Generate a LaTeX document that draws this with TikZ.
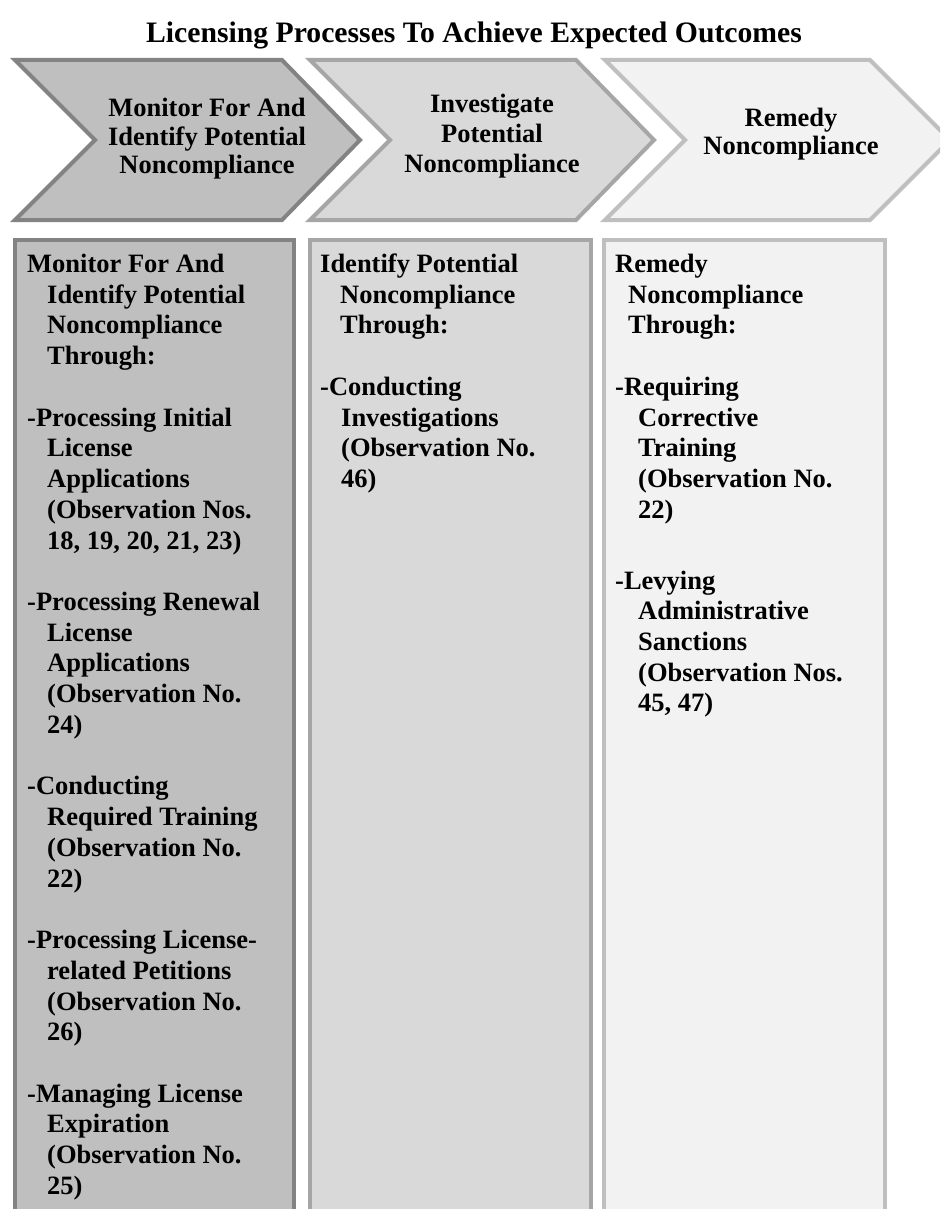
\documentclass[tikz,border=0pt]{standalone}
\usepackage{fontspec}
\setmainfont{Liberation Serif}
\newcommand\cellfont{\fontsize{26.5}{30}\selectfont\bfseries}
\newcommand\headfont{\fontsize{29.7}{34}\selectfont\bfseries}
\definecolor{fillA}{HTML}{BFBFBF}
\definecolor{lineA}{HTML}{838383}
\definecolor{fillB}{HTML}{D9D9D9}
\definecolor{lineB}{HTML}{A6A6A6}
\definecolor{fillC}{HTML}{F2F2F2}
\definecolor{lineC}{HTML}{BFBFBF}
\begin{document}
\begin{tikzpicture}[x=1pt,y=-1pt,
  txt/.style={inner sep=0pt, anchor=base west, font=\cellfont, text=black},
  ctxt/.style={inner sep=0pt, anchor=base, font=\cellfont, text=black},
  panel/.style={line width=4pt, line join=miter}]
\useasboundingbox (0,0) rectangle (940,1209);
\fill[white] (0,0) rectangle (940,1209);
\begin{scope}
\clip (0,0) rectangle (940,1209);

% title
\node[inner sep=0pt, anchor=base, font=\headfont] (title) at (474,43)
  {Licensing Processes To Achieve Expected Outcomes};

% chevrons
\draw[panel, fill=fillA, draw=lineA] (15,60) -- (282,60) -- (360,140) -- (282,220) -- (15,220) -- (95,140) -- cycle;
\draw[panel, fill=fillB, draw=lineB] (310,60) -- (576,60) -- (654,140) -- (576,220) -- (310,220) -- (390,140) -- cycle;
\draw[panel, fill=fillC, draw=lineC] (605,60) -- (870,60) -- (950,140) -- (870,220) -- (605,220) -- (685,140) -- cycle;

\node[ctxt] (c1a) at (207,117) {Monitor For And};
\node[ctxt] (c1b) at (207,146) {Identify Potential};
\node[ctxt] (c1c) at (207,174) {Noncompliance};
\node[ctxt] (c2a) at (492,113) {Investigate};
\node[ctxt] (c2b) at (492,143) {Potential};
\node[ctxt] (c2c) at (492,173) {Noncompliance};
\node[ctxt] (c3a) at (791,127) {Remedy};
\node[ctxt] (c3b) at (791,155) {Noncompliance};

% columns (running past the lower edge)
\draw[panel, fill=fillA, draw=lineA] (15,1240) -- (15,240) -- (294,240) -- (294,1240);
\draw[panel, fill=fillB, draw=lineB] (310,1240) -- (310,240) -- (591,240) -- (591,1240);
\draw[panel, fill=fillC, draw=lineC] (604,1240) -- (604,240) -- (885,240) -- (885,1240);

% column 1
\foreach \x/\i/\t [count=\n] in {
  27/0/{Monitor For And}, 47/1/{Identify Potential}, 47/2/{Noncompliance}, 47/3/{Through:},
  27/5/{-Processing Initial}, 47/6/{License}, 47/7/{Applications}, 47/8/{(Observation Nos.}, 47/9/{18, 19, 20, 21, 23)},
  27/11/{-Processing Renewal}, 47/12/{License}, 47/13/{Applications}, 47/14/{(Observation No.}, 47/15/{24)},
  27/17/{-Conducting}, 47/18/{Required Training}, 47/19/{(Observation No.}, 47/20/{22)},
  27/22/{-Processing License-}, 47/23/{related Petitions}, 47/24/{(Observation No.}, 47/25/{26)},
  27/27/{-Managing License}, 47/28/{Expiration}, 47/29/{(Observation No.}, 47/30/{25)}}
  \node[txt] (a\n) at ({\x},{272.5+30.73*\i}) {\t};

% column 2
\foreach \x/\i/\t [count=\n] in {
  320/0/{Identify Potential}, 340/1/{Noncompliance}, 340/2/{Through:},
  320/4/{-Conducting}, 341/5/{Investigations}, 341/6/{(Observation No.}, 341/7/{46)}}
  \node[txt] (b\n) at ({\x},{272.5+30.73*\i}) {\t};

% column 3
\foreach \x/\i/\t [count=\n] in {
  615/0/{Remedy}, 628/1/{Noncompliance}, 628/2/{Through:},
  615/4/{-Requiring}, 638/5/{Corrective}, 638/6/{Training}, 638/7/{(Observation No.}, 638/8/{22)},
  615/10.3/{-Levying}, 638/11.3/{Administrative}, 638/12.3/{Sanctions}, 638/13.3/{(Observation Nos.}, 638/14.3/{45, 47)}}
  \node[txt] (d\n) at ({\x},{272.5+30.73*\i}) {\t};
\end{scope}
\end{tikzpicture}
\end{document}
